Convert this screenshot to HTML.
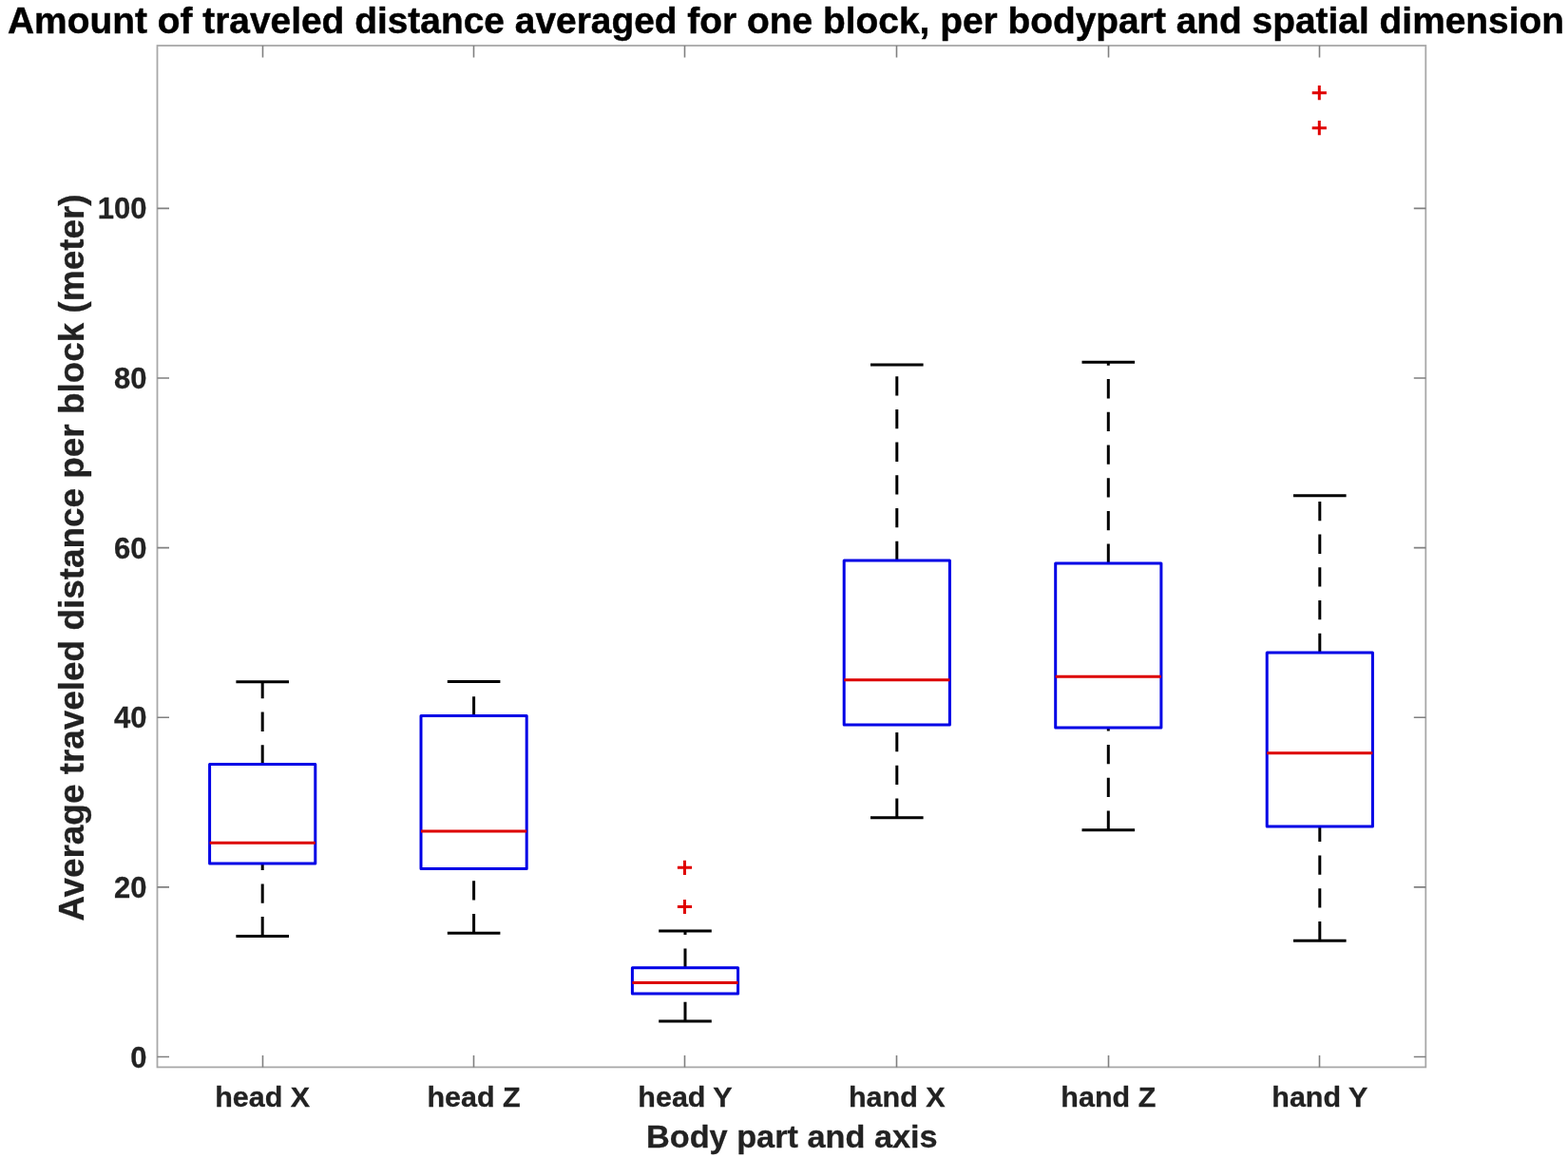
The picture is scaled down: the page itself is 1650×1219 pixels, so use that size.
<!DOCTYPE html><html><head><meta charset="utf-8"><title>Boxplot</title><style>html,body{margin:0;padding:0;background:#fff;}svg{display:block;}</style></head><body>
<svg width="1650" height="1219" viewBox="0 0 1650 1219" font-family="'Liberation Sans', Arial, Helvetica, sans-serif" font-weight="bold">
<rect width="1650" height="1219" fill="#fff"/>
<rect x="165.5" y="48.0" width="1334.8" height="1075.4" fill="none" stroke="#a8a8a8" stroke-width="1.8"/>
<path d="M276.5 1123.4V1110.9M276.5 48.0V60.5M498.5 1123.4V1110.9M498.5 48.0V60.5M720.5 1123.4V1110.9M720.5 48.0V60.5M943.5 1123.4V1110.9M943.5 48.0V60.5M1166.5 1123.4V1110.9M1166.5 48.0V60.5M1388.5 1123.4V1110.9M1388.5 48.0V60.5M165.5 1112.5H178.0M1500.3 1112.5H1487.8M165.5 933.9H178.0M1500.3 933.9H1487.8M165.5 755.3H178.0M1500.3 755.3H1487.8M165.5 576.6H178.0M1500.3 576.6H1487.8M165.5 398.0H178.0M1500.3 398.0H1487.8M165.5 219.4H178.0M1500.3 219.4H1487.8" stroke="#808080" stroke-width="1.6" fill="none"/>
<path d="M276.2 804.6V717.8M276.2 985.4V909.0" stroke="#000" stroke-width="3" stroke-dasharray="20.3 14.4" fill="none"/>
<path d="M498.6 753.6V717.5M498.6 982.3V914.4" stroke="#000" stroke-width="3" stroke-dasharray="20.3 14.4" fill="none"/>
<path d="M721.0 1018.8V979.9M721.0 1075.1V1045.9" stroke="#000" stroke-width="3" stroke-dasharray="20.3 14.4" fill="none"/>
<path d="M943.8 590.0V383.9M943.8 860.7V763.1" stroke="#000" stroke-width="3" stroke-dasharray="20.3 14.4" fill="none"/>
<path d="M1166.3 592.9V381.3M1166.3 873.7V766.1" stroke="#000" stroke-width="3" stroke-dasharray="20.3 14.4" fill="none"/>
<path d="M1388.8 687.0V521.7M1388.8 990.2V869.9" stroke="#000" stroke-width="3" stroke-dasharray="20.3 14.4" fill="none"/>
<path d="M248.4 717.8H304.0M248.4 985.4H304.0M470.8 717.5H526.4M470.8 982.3H526.4M693.2 979.9H748.8M693.2 1075.1H748.8M916.0 383.9H971.6M916.0 860.7H971.6M1138.5 381.3H1194.1M1138.5 873.7H1194.1M1361.0 521.7H1416.6M1361.0 990.2H1416.6" stroke="#000" stroke-width="3" fill="none"/>
<rect x="220.6" y="804.6" width="111.2" height="104.4" fill="none" stroke="#0000e6" stroke-width="3" stroke-linejoin="round"/>
<rect x="443.0" y="753.6" width="111.2" height="160.8" fill="none" stroke="#0000e6" stroke-width="3" stroke-linejoin="round"/>
<rect x="665.4" y="1018.8" width="111.2" height="27.1" fill="none" stroke="#0000e6" stroke-width="3" stroke-linejoin="round"/>
<rect x="888.2" y="590.0" width="111.2" height="173.1" fill="none" stroke="#0000e6" stroke-width="3" stroke-linejoin="round"/>
<rect x="1110.7" y="592.9" width="111.2" height="173.2" fill="none" stroke="#0000e6" stroke-width="3" stroke-linejoin="round"/>
<rect x="1333.2" y="687.0" width="111.2" height="182.9" fill="none" stroke="#0000e6" stroke-width="3" stroke-linejoin="round"/>
<path d="M220.6 887.2H331.8M443.0 875.0H554.2M665.4 1034.4H776.6M888.2 715.8H999.4M1110.7 712.2H1221.9M1333.2 792.8H1444.4" stroke="#dd0000" stroke-width="3" fill="none"/>
<path d="M712.9 913.3H728.1M720.5 905.7V920.9M712.9 954.5H728.1M720.5 946.9V962.1M1380.7 97.7H1395.9M1388.3 90.1V105.3M1380.7 134.7H1395.9M1388.3 127.1V142.3" stroke="#e00000" stroke-width="3" fill="none"/>
<text x="154.5" y="1123.5" font-size="31" fill="#222" stroke="#222" stroke-width="0.3" text-anchor="end">0</text>
<text x="154.5" y="944.9" font-size="31" fill="#222" stroke="#222" stroke-width="0.3" text-anchor="end">20</text>
<text x="154.5" y="766.3" font-size="31" fill="#222" stroke="#222" stroke-width="0.3" text-anchor="end">40</text>
<text x="154.5" y="587.6" font-size="31" fill="#222" stroke="#222" stroke-width="0.3" text-anchor="end">60</text>
<text x="154.5" y="409.0" font-size="31" fill="#222" stroke="#222" stroke-width="0.3" text-anchor="end">80</text>
<text x="154.5" y="230.4" font-size="31" fill="#222" stroke="#222" stroke-width="0.3" text-anchor="end">100</text>
<text transform="translate(276.2 1164.8) scale(1 0.945)" font-size="30.5" fill="#222" stroke="#222" stroke-width="0.3" text-anchor="middle">head X</text>
<text transform="translate(498.6 1164.8) scale(1 0.945)" font-size="30.5" fill="#222" stroke="#222" stroke-width="0.3" text-anchor="middle">head Z</text>
<text transform="translate(721.0 1164.8) scale(1 0.945)" font-size="30.5" fill="#222" stroke="#222" stroke-width="0.3" text-anchor="middle">head Y</text>
<text transform="translate(943.8 1164.8) scale(1 0.945)" font-size="30.5" fill="#222" stroke="#222" stroke-width="0.3" text-anchor="middle">hand X</text>
<text transform="translate(1166.3 1164.8) scale(1 0.945)" font-size="30.5" fill="#222" stroke="#222" stroke-width="0.3" text-anchor="middle">hand Z</text>
<text transform="translate(1388.8 1164.8) scale(1 0.945)" font-size="30.5" fill="#222" stroke="#222" stroke-width="0.3" text-anchor="middle">hand Y</text>
<text transform="translate(833.3 1208.4) scale(1 0.96)" font-size="34.3" fill="#222" stroke="#222" stroke-width="0.3" text-anchor="middle">Body part and axis</text>
<text transform="translate(88.1 587.1) rotate(-90)" x="0" y="0" font-size="36.9" fill="#222" stroke="#222" stroke-width="0.3" text-anchor="middle">Average traveled distance per block (meter)</text>
<text x="8" y="34.7" font-size="38.9" fill="#000" stroke="#000" stroke-width="0.45">Amount of traveled distance averaged for one block, per bodypart and spatial dimension</text>
</svg></body></html>
